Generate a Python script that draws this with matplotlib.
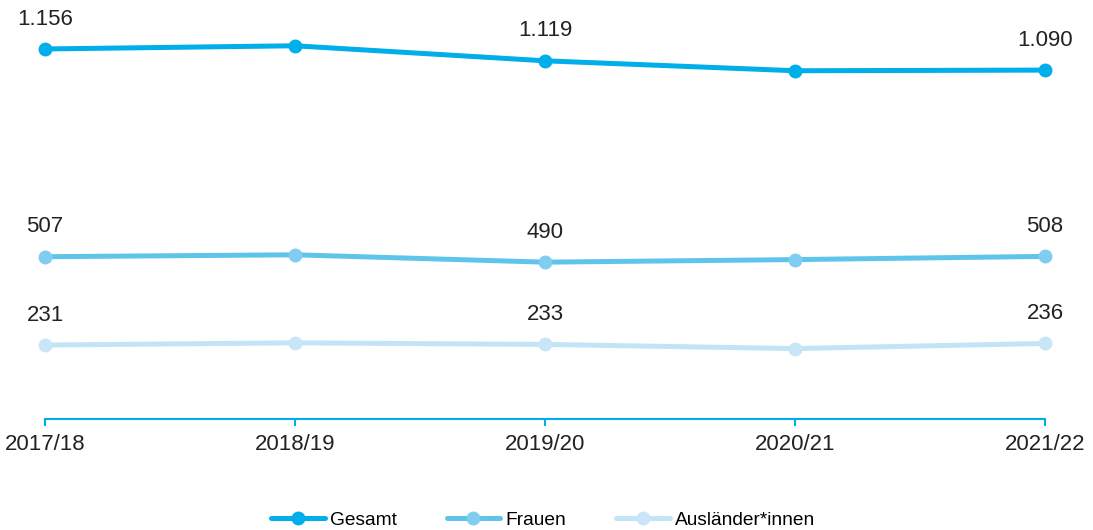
import matplotlib.pyplot as plt

plt.rcParams['font.family'] = ['Liberation Sans', 'DejaVu Sans']

years = ['2017/18', '2018/19', '2019/20', '2020/21', '2021/22']
gesamt = [1156, 1166, 1119, 1088, 1090]
frauen = [507, 513, 490, 498, 508]
auslaender = [231, 238, 233, 220, 236]
labelled = [0, 2, 4]

series = [
    ('Gesamt', gesamt, '#00aee9', '#00aee9'),
    ('Frauen', frauen, '#5ec4ea', '#80cdf1'),
    ('Ausländer*innen', auslaender, '#c2e4f7', '#c8e6f8'),
]

fig = plt.figure(figsize=(10.93, 5.30), dpi=100)
ax = fig.add_axes([45 / 1093, 111 / 530, 1000 / 1093, 419 / 530])
x = list(range(len(years)))

for name, vals, col, mcol in series:
    ax.plot(x, vals, color=col, lw=3.6, marker='o', ms=9,
            markerfacecolor=mcol, markeredgecolor=mcol, label=name,
            solid_capstyle='round', clip_on=False)
    # value labels above selected points
    for i in labelled:
        ax.annotate(f'{vals[i]:,}'.replace(',', '.'), (x[i], vals[i]),
                    xytext=(0, 14), textcoords='offset points',
                    ha='center', va='bottom', fontsize=16, color='#222222')

ax.set_xlim(0, 4)
ax.set_ylim(0, 1309)
ax.set_xticks(x)
ax.set_xticklabels(years, fontsize=16, color='#222222')
ax.set_yticks([])
for s in ['top', 'right', 'left']:
    ax.spines[s].set_visible(False)
ax.spines['bottom'].set_color('#00aee9')
ax.spines['bottom'].set_linewidth(1.5)
ax.tick_params(axis='x', length=5, width=1.5, color='#00aee9', pad=6)

fig.legend(loc='center', bbox_to_anchor=(543 / 1093, 10 / 530), ncol=3,
           frameon=False, fontsize=13.8, handlelength=2.8, handletextpad=0.26,
           columnspacing=2.6)

fig.savefig('out.png', dpi=100)
